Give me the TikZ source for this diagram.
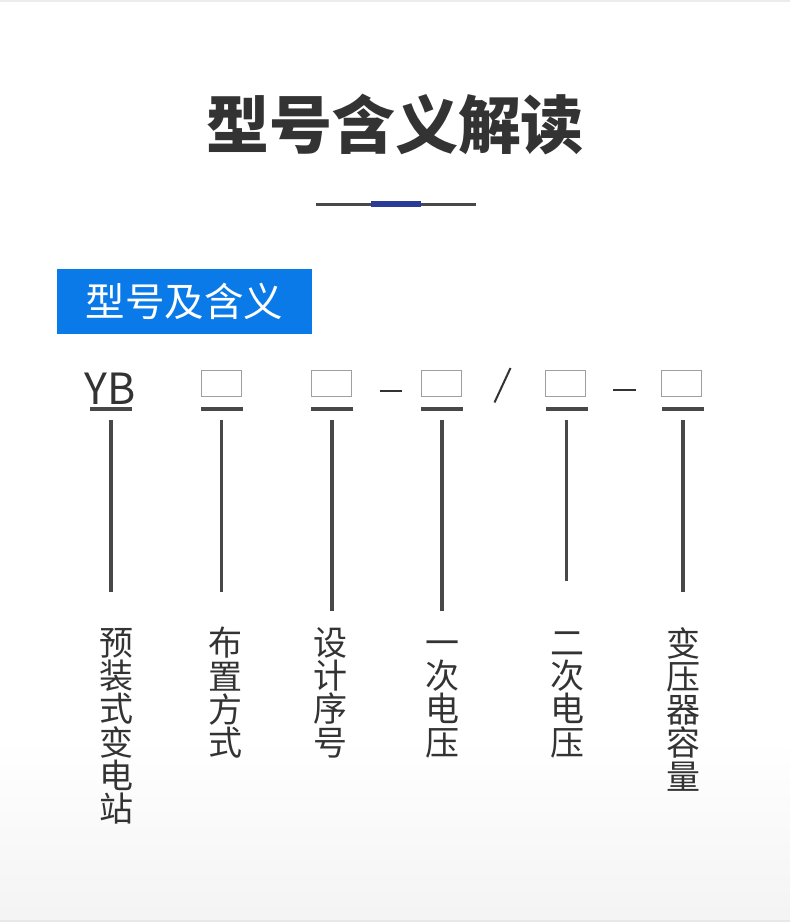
\documentclass[tikz,border=0pt]{standalone}
\usepackage{fontspec}
\newfontfamily\cjk{Noto Sans CJK SC}
\usetikzlibrary{positioning}
\definecolor{cText}{RGB}{51,51,51}
\definecolor{cLine}{RGB}{72,72,72}
\definecolor{cBlue}{RGB}{10,122,232}
\definecolor{cNavy}{RGB}{42,58,152}
\newcommand{\topstrut}{\rule{0pt}{28pt}}
\tikzset{
  title/.style={font=\cjk\bfseries\fontsize{63}{63}\selectfont, text=cText, inner sep=0pt},
  tag/.style={fill=cBlue, text=white, minimum width=255pt, minimum height=65pt, inner sep=0pt, font=\cjk\fontsize{39.5}{39.5}\selectfont},
  field/.style={draw=gray!75, line width=1pt, minimum width=40pt, minimum height=26pt, inner sep=0pt},
  code/.style={font=\cjk\fontsize{43}{43}\selectfont, text=cText, inner sep=0pt},
  ul/.style={fill=cLine, minimum width=42pt, minimum height=3.5pt, inner sep=0pt},
  stem/.style={draw=cLine, line width=3.5pt},
  sep/.style={draw=cText, line width=2pt},
  mean/.style={font=\cjk\fontsize{34}{33.3}\selectfont, text=cText, align=center, inner sep=0pt, anchor=north}
}

\begin{document}
\begin{tikzpicture}[x=1pt, y=-1pt]
  \useasboundingbox (0,0) rectangle (790,922);
  % background
  \shade[top color=white, bottom color=gray!9] (0,740) rectangle (790,922);
  \draw[gray!15, line width=1.5pt] (0,1) -- (790,1);
  \draw[gray!18, line width=1.5pt] (0,921) -- (790,921);
  % heading
  \node[title] (head) at (395,125) {型号含义解读};
  \draw[line width=3pt, cLine] (316,204) -- (476,204);
  \draw[line width=6pt, cNavy] (371,204) -- (421,204);
  \node[tag] (tag) at (184.5,301.5) {型号及含义};
  % code fields
  \node[code] (fYB) at (110.5,388.5) {YB};
  \foreach \n/\x in {f1/221.5, f2/331, f3/441.5, f4/565, f5/681.7}
    \node[field] (\n) at (\x,383.5) {};
  \draw[sep] (380,390.5) -- (402,390.5);
  \draw[sep] (494.5,402.5) -- (510.5,368);
  \draw[sep] (613,390) -- (636,390);
  % underlines, stems and meanings
  \foreach \n/\x/\lx/\e/\t in {
      a/111/116/592/{预\\装\\式\\变\\电\\站},
      b/221.5/225/592/{布\\置\\方\\式},
      c/332/330/611/{设\\计\\序\\号},
      d/442/442/611/{一\\次\\电\\压},
      e/566.5/567/581/{二\\次\\电\\压},
      f/683/683/592/{变\\压\\器\\容\\量}} {
    \node[ul] (u\n) at (\x,409) {};
    \coordinate (e\n) at (\x,\e);
    \draw[stem] ([yshift=-9pt]u\n.south) -- (e\n);
    \node[mean] (m\n) at (\lx,627) {\topstrut\t};
  }
\end{tikzpicture}
\end{document}
